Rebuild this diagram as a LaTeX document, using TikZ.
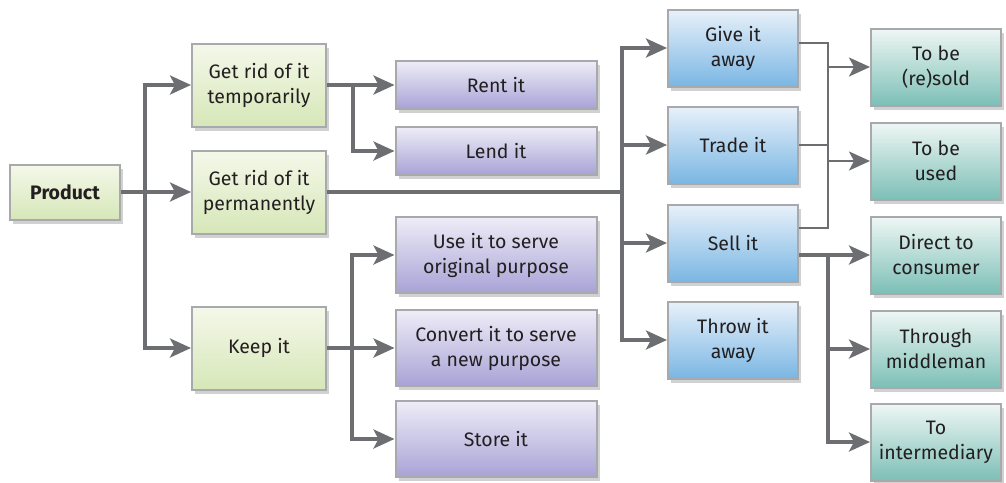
\documentclass[tikz,border=0pt]{standalone}
\usepackage{fontspec}
\setmainfont{Fira Sans}
\usepackage{xcolor}
\usetikzlibrary{arrows.meta,shadows,calc}

\definecolor{linegray}{HTML}{6D6E71}
\definecolor{edgegray}{HTML}{A7A9AC}
\definecolor{textgray}{HTML}{231F20}
\definecolor{greentop}{HTML}{F5F8EA}
\definecolor{greenbot}{HTML}{D6E7B8}
\definecolor{purptop}{HTML}{EEEDF7}
\definecolor{purpbot}{HTML}{A8A2D6}
\definecolor{bluetop}{HTML}{E8F1FA}
\definecolor{bluebot}{HTML}{7AB6E3}
\definecolor{tealtop}{HTML}{EFF7F5}
\definecolor{tealbot}{HTML}{7CBFB6}

\begin{document}
\begin{tikzpicture}[x=1pt, y=-1pt,
    box/.style={draw=edgegray, line width=2pt, align=center, inner sep=0pt,
      text=textgray, font=\fontsize{19.5}{25}\selectfont,
      drop shadow={shadow xshift=3pt, shadow yshift=-4pt, fill=black, opacity=0.18}},
    greenbox/.style={box, top color=greentop, bottom color=greenbot, minimum width=134pt, minimum height=83pt},
    purpbox/.style={box, top color=purptop, bottom color=purpbot, minimum width=201pt},
    bluebox/.style={box, top color=bluetop, bottom color=bluebot, minimum width=130pt, minimum height=77pt},
    tealbox/.style={box, top color=tealtop, bottom color=tealbot, minimum width=130pt, minimum height=77pt},
    joint/.style={draw=linegray, line width=3.4pt},
    link/.style={joint, -{Stealth[length=21pt, width=19pt, inset=5pt]}},
    thinjoint/.style={draw=linegray, line width=2.4pt},
    thinlink/.style={thinjoint, -{Stealth[length=21pt, width=19pt, inset=5pt]}}]

    \useasboundingbox (0,0) rectangle (1006,482);

    % Start
    \node[box, top color=greentop, bottom color=greenbot, minimum width=110pt, minimum height=55pt,
      font=\fontsize{19.5}{25}\selectfont\bfseries] (product) at (65,192) {Product};

    % First level
    \node[greenbox] (temp) at (259,85) {Get rid of it\\temporarily};
    \node[greenbox] (perm) at (259,192) {Get rid of it\\permanently};
    \node[greenbox] (keep) at (259,348) {Keep it};

    % Temporary
    \node[purpbox, minimum height=48pt] (rent) at (496,85) {Rent it};
    \node[purpbox, minimum height=48pt] (lend) at (496,151) {Lend it};

    % Keep
    \node[purpbox, minimum height=76pt] (use) at (496,255) {Use it to serve\\original purpose};
    \node[purpbox, minimum height=76pt] (convert) at (496,348) {Convert it to serve\\a new purpose};
    \node[purpbox, minimum height=76pt] (store) at (496,439) {Store it};

    % Permanent
    \node[bluebox] (give) at (733,48) {Give it\\away};
    \node[bluebox] (trade) at (733,145) {Trade it};
    \node[bluebox] (sell) at (733,243) {Sell it};
    \node[bluebox] (throw) at (733,340) {Throw it\\away};

    % Outcomes
    \node[tealbox] (resold) at (936,67) {To be\\(re)sold};
    \node[tealbox] (used) at (936,161) {To be\\used};
    \node[tealbox] (direct) at (936,255) {Direct to\\consumer};
    \node[tealbox] (middle) at (936,349) {Through\\middleman};
    \node[tealbox] (inter) at (936,442) {To\\intermediary};

    % Split points
    \coordinate (s1) at (145,192);
    \coordinate (s2) at (353,85);
    \coordinate (s3) at (622,192);
    \coordinate (s4) at (352,348);
    \coordinate (s5) at (828,0);

    % Connectors
    \draw[link] (product.east) -- (perm.west);
    \draw[link] (s1) |- (temp.west);
    \draw[link] (s1) |- (keep.west);

    \draw[link] (temp.east) -- (rent.west);
    \draw[link] (s2) |- (lend.west);

    \draw[joint] (perm.east) -- (s3);
    \foreach \n in {give,trade,sell,throw}
      \draw[link] (s3) |- (\n.west);

    \draw[link] (keep.east) -- (convert.west);
    \foreach \n in {use,store}
      \draw[link] (s4) |- (\n.west);

    \draw[thinjoint] ($(give.east)+(0,-5)$) -| (s5 |- {$(sell.east)+(0,-15)$}) -- ($(sell.east)+(0,-15)$);
    \draw[thinjoint] (trade.east) -- (s5 |- trade.east);
    \draw[thinlink] (s5 |- resold.west) -- (resold.west);
    \draw[thinlink] (s5 |- used.west) -- (used.west);

    \draw[link] (sell.east |- direct.west) -- (direct.west);
    \foreach \n in {middle,inter}
      \draw[link] (s5 |- direct.west) |- (\n.west);
\end{tikzpicture}
\end{document}
